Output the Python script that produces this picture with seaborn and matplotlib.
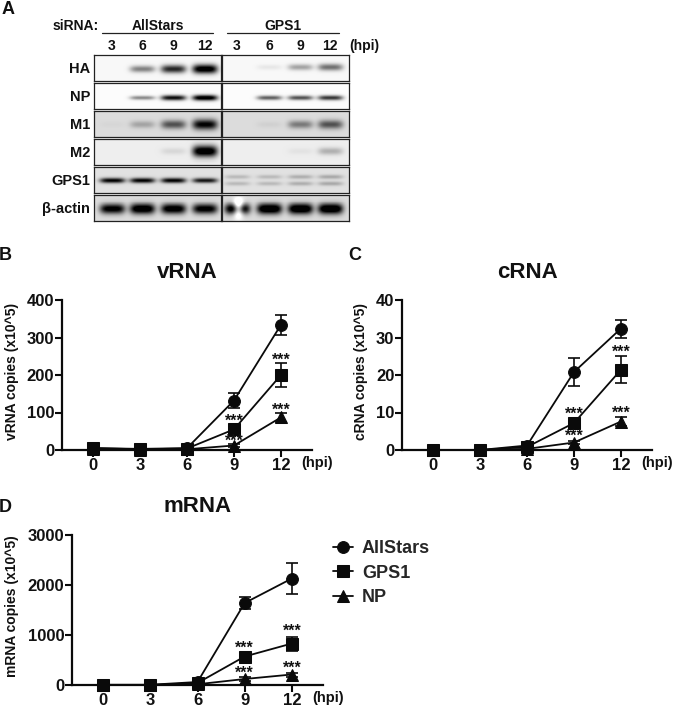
import numpy as np
import pandas as pd
import seaborn as sns
import matplotlib.pyplot as plt

# Data
hours = [0, 3, 6, 9, 12]
groups = ['AllStars', 'GPS1', 'NP']

vrna_allstars = [5, 3, 5, 132, 334]
vrna_gps1 = [5, 2, 4, 55, 200]
vrna_np = [3, 1, 2, 12, 87]
vrna_err_allstars = [0, 0, 0, 20, 27]
vrna_err_gps1 = [0, 0, 0, 6, 31]
vrna_err_np = [0, 0, 0, 3, 13]

crna_allstars = [0, 0, 1.2, 20.8, 32.4]
crna_gps1 = [0, 0, 0.8, 7.2, 21.4]
crna_np = [0, 0, 0.3, 2, 7.6]
crna_err_allstars = [0, 0, 0, 3.7, 2.4]
crna_err_gps1 = [0, 0, 0, 0.8, 3.6]
crna_err_np = [0, 0, 0, 0.4, 1.2]

mrna_allstars = [5, 5, 60, 1640, 2130]
mrna_gps1 = [0, 0, 40, 570, 830]
mrna_np = [0, 0, 15, 120, 210]
mrna_err_allstars = [0, 0, 0, 125, 310]
mrna_err_gps1 = [0, 0, 0, 50, 140]
mrna_err_np = [0, 0, 0, 40, 40]

# (hour, height) of each *** mark
vrna_stars = [(9, 76), (9, 22), (12, 238), (12, 107)]
crna_stars = [(9, 9.4), (9, 3.6), (12, 26.1), (12, 9.8)]
mrna_stars = [(9, 740), (9, 225), (12, 1075), (12, 340)]

# Blot band strengths per lane (3, 6, 9, 12 hpi), AllStars then GPS1
blot_names = ['HA', 'NP', 'M1', 'M2', 'GPS1', 'β-actin']
blot_left = [[0, .42, .75, 1.0], [0, .4, .85, 1.0], [.02, .2, .5, .8],
             [0, 0, .08, 1.0], [.8, .8, .8, .72], [.85, .95, .9, .85]]
blot_right = [[0, .06, .3, .48], [0, .55, .6, .7], [0, .04, .35, .5],
              [0, 0, .04, .22], [.14, .14, .18, .2], [1.0, 1.0, 1.0, 1.0]]
blot_bg = [.97, .985, .86, .93, .88, .86]
blot_band_y = [.52, .55, .5, .47, .5, .53]
blot_band_h = [.16, .1, .2, .2, .1, .19]
lanes_left = [112, 142, 173, 205]
lanes_right = [237, 269, 300, 330]
lane_labels = ['3', '6', '9', '12']

W, H = 675, 709
BOLD = dict(fontweight='bold', family=['Liberation Sans', 'DejaVu Sans'], color='#111111')

sns.set_style('ticks')
plt.rcParams['font.family'] = ['Liberation Sans', 'DejaVu Sans']

fig = plt.figure(figsize=(W / 100, H / 100), dpi=100)


def px_axes(x0, y0, x1, y1):
    # axes from pixel corners, y measured from the top of the image
    return fig.add_axes([x0 / W, 1 - y1 / H, (x1 - x0) / W, (y1 - y0) / H])


def label(x, y, s, size=9.5, ha='center', **kw):
    fig.text(x / W, 1 - y / H, s, ha=ha, va='center', fontsize=size, **BOLD, **kw)


def add_bands(img, x0, lanes, strengths, cy, bh):
    ny, nx = img.shape
    yy, xx = np.mgrid[0:ny, 0:nx]
    yy = yy / ny
    xx = x0 + xx / 2
    for lane, s in zip(lanes, strengths):
        band = np.exp(-((xx - lane) / 12.5) ** 4) * np.exp(-((yy - cy) / (bh * (0.6 + 0.5 * s))) ** 2)
        img -= s * 1.1 * band
    return img


# Panel A, the blots
row_tops = [55, 83, 111, 139, 167, 195]
for i, name in enumerate(blot_names):
    y0, y1 = row_tops[i], row_tops[i] + 26
    for x0, x1, lanes, vals, right in [(94, 221, lanes_left, blot_left[i], False),
                                       (222, 349, lanes_right, blot_right[i], True)]:
        ax = px_axes(x0, y0, x1, y1)
        img = np.full(((y1 - y0) * 2, (x1 - x0) * 2), blot_bg[i], dtype=float)
        if name == 'GPS1' and right:
            # faint doubled bands after knockdown
            add_bands(img, x0, lanes, vals, .36, .12)
            add_bands(img, x0, lanes, vals, .62, .12)
        else:
            cy = blot_band_y[i] - (.07 if name == 'HA' and right else 0)
            add_bands(img, x0, lanes, vals, cy, blot_band_h[i])
        if name == 'β-actin' and right:
            # pale spot in the first GPS1 lane
            yy, xx = np.mgrid[0:img.shape[0], 0:img.shape[1]]
            img += 1.0 * np.exp(-((xx / 2 + x0 - 238) / 5) ** 2 - ((yy / 2 - 13) / 8) ** 2)
        img = np.clip(img, 0, 1)
        sns.heatmap(img, cmap='gray', vmin=0, vmax=1, cbar=False, xticklabels=False,
                    yticklabels=False, rasterized=True, ax=ax)
        for sp in ax.spines.values():
            sp.set_visible(True)
            sp.set_linewidth(0.9)
            sp.set_color('#222222')
    label(90, (y0 + y1) / 2 + 1, name, size=10.5, ha='right')

label(76, 26, 'siRNA:', size=10)
label(158, 25.5, 'AllStars', size=10)
label(283, 25.5, 'GPS1', size=10)
for a, b in [(102, 213), (227, 339)]:
    fig.add_artist(plt.Line2D([a / W, b / W], [1 - 33 / H, 1 - 33 / H], color='#222222', lw=0.9))
for x, s in zip(lanes_left + lanes_right, lane_labels * 2):
    label(x, 46, s, size=10)
label(364, 46, '(hpi)', size=10)

label(8, 10, 'A', size=13)
label(5, 255, 'B', size=13)
label(355, 255, 'C', size=13)
label(5, 508, 'D', size=13)

markers = {'AllStars': 'o', 'GPS1': 's', 'NP': '^'}


def growth_panel(rect, means, errs, stars, ymax, yticks, title, ylabel, title_x, ylabel_x):
    ax = px_axes(*rect)
    frame = pd.DataFrame({'hpi': hours * 3,
                          'group': np.repeat(groups, len(hours)),
                          'copies': sum(means, [])})
    sns.lineplot(data=frame, x='hpi', y='copies', hue='group', style='group',
                 palette=['#0a0a0a'] * 3, markers=markers, dashes=False, errorbar=None,
                 markersize=8.5, markeredgecolor='#0a0a0a', linewidth=1.3, clip_on=False, ax=ax)
    for m, e in zip(means, errs):
        mask = np.array(e) > 0
        ax.errorbar(np.array(hours)[mask], np.array(m)[mask], yerr=np.array(e)[mask], fmt='none',
                    ecolor='#0a0a0a', elinewidth=1.2, capsize=4.5, capthick=1.2, clip_on=False)
    for h, y in stars:
        ax.text(h, y, '***', ha='center', va='center', fontsize=11.5, **BOLD)
    ax.set_xlim(-1.98, 13.98)
    ax.set_ylim(0, ymax)
    ax.set_xticks(hours)
    ax.set_yticks(yticks)
    ax.tick_params(length=5, width=1.5, labelsize=12, pad=0.5, color='#0a0a0a')
    for t in ax.get_xticklabels() + ax.get_yticklabels():
        t.set_fontweight('bold')
        t.set_color('#111111')
    ax.set_xlabel('')
    ax.set_ylabel(ylabel, fontsize=10, **BOLD)
    ax.yaxis.set_label_coords((ylabel_x - rect[0]) / (rect[2] - rect[0]), 0.525)
    sns.despine(ax=ax)
    for s in ['left', 'bottom']:
        ax.spines[s].set_linewidth(1.6)
        ax.spines[s].set_color('#0a0a0a')
    label(rect[2] + 5, rect[3] + 13, '(hpi)', size=10.5)
    label(title_x, 272 if rect[3] < 500 else 507, title, size=16)
    return ax


ax_b = growth_panel((62, 300, 312, 450), [vrna_allstars, vrna_gps1, vrna_np],
                    [vrna_err_allstars, vrna_err_gps1, vrna_err_np], vrna_stars,
                    400, [0, 100, 200, 300, 400], 'vRNA', 'vRNA copies (x10^5)', 187, 19)
ax_b.legend_.remove()

ax_c = growth_panel((402, 300, 652, 450), [crna_allstars, crna_gps1, crna_np],
                    [crna_err_allstars, crna_err_gps1, crna_err_np], crna_stars,
                    40, [0, 10, 20, 30, 40], 'cRNA', 'cRNA copies (x10^5)', 527, 368)
ax_c.legend_.remove()

ax_d = growth_panel((72, 535, 323, 685), [mrna_allstars, mrna_gps1, mrna_np],
                    [mrna_err_allstars, mrna_err_gps1, mrna_err_np], mrna_stars,
                    3000, [0, 1000, 2000, 3000], 'mRNA', 'mRNA copies (x10^5)', 198, 19)
ax_d.legend(loc='upper left', bbox_to_anchor=(333 / W, 1 - 540 / H), bbox_transform=fig.transFigure,
            frameon=False, labelspacing=0.42, handlelength=1.1, handletextpad=0.5,
            borderpad=0, borderaxespad=0,
            prop=dict(weight='bold', size=13, family='Liberation Sans'))

fig.savefig('out.png', dpi=100, facecolor='white')
